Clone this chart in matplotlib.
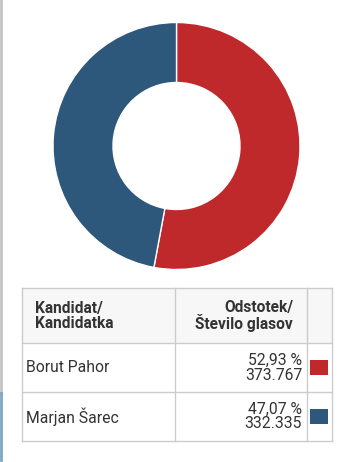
import matplotlib.pyplot as plt
from matplotlib.patches import Rectangle

candidates = ['Borut Pahor', 'Marjan Šarec']
percent = [52.93, 47.07]
votes = ['373.767', '332.335']
colors = ['#c0292b', '#2d587b']

W, H = 353, 462
fig = plt.figure(figsize=(W / 100, H / 100), dpi=100)
ax = fig.add_axes([0, 0, 1, 1])
plt.rcParams['font.family'] = ['Roboto', 'DejaVu Sans']

# donut
ax.pie(percent, colors=colors, startangle=90, counterclock=False,
       center=(176.5, H - 146), radius=123.5, frame=True,
       wedgeprops=dict(width=60, edgecolor='white', linewidth=1))
ax.set_xlim(0, W)
ax.set_ylim(0, H)
ax.axis('off')

def y(py):
    return H - py

# left edge of the page box
ax.plot([1, 1], [y(0), y(393)], color='#c4c4c8', lw=2)
ax.plot([1, 1], [y(393), y(460)], color='#7ea6c2', lw=2)

# table
tx0, tx1 = 22, 332
cols = [22, 174.5, 306.5, 332]
rows = [288, 343, 392, 441]
ax.add_patch(Rectangle((tx0, y(rows[1])), tx1 - tx0, rows[1] - rows[0],
                       facecolor='#f7f7f7', edgecolor='none'))
lc = '#cccccc'
for r in rows:
    ax.plot([tx0, tx1], [y(r), y(r)], color=lc, lw=1)
for c in cols:
    ax.plot([c, c], [y(rows[0]), y(rows[-1])], color=lc, lw=1)

tc = '#333333'
ax.text(35, y(316), 'Kandidat/\nKandidatka', ha='left', va='center',
        fontsize=11.2, fontweight='bold', color=tc, linespacing=0.98)
ax.text(293, y(316), 'Odstotek/\nŠtevilo glasov', ha='right', va='center',
        fontsize=11.2, fontweight='bold', color=tc, linespacing=0.98,
        multialignment='right')

for i, name in enumerate(candidates):
    top, bot = rows[i + 1], rows[i + 2]
    mid = (top + bot) / 2
    ax.text(26, y(mid), name, ha='left', va='center', fontsize=11.3, color=tc)
    pct = f'{percent[i]:.2f}'.replace('.', ',') + ' %'
    ax.text(302, y(mid), pct + '\n' + votes[i], ha='right', va='center',
            fontsize=11.3, color=tc, linespacing=1.0, multialignment='right')
    ax.add_patch(Rectangle((310, y(mid + 7.5)), 18, 15,
                           facecolor=colors[i], edgecolor='none'))

fig.savefig('out.png', dpi=100)
